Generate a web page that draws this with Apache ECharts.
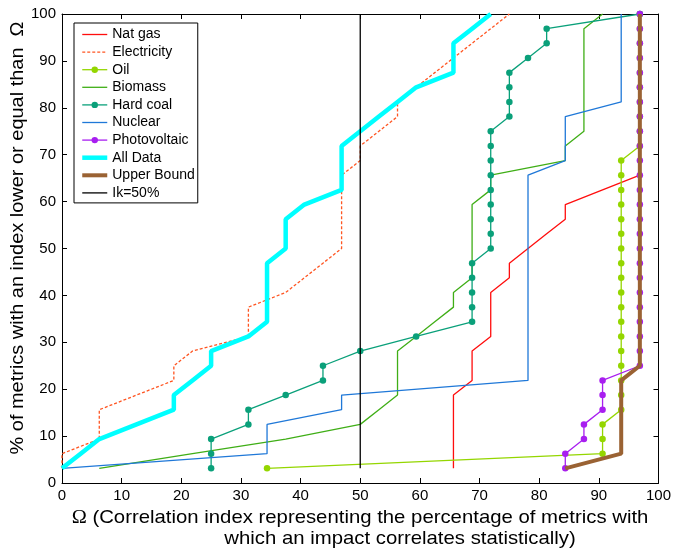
<!DOCTYPE html>
<html>
<head>
<meta charset="utf-8">
<script src="https://cdn.jsdelivr.net/npm/echarts@6/dist/echarts.min.js"></script>
<style>
  html, body { margin: 0; padding: 0; background: #fff; }
  #chart { width: 674px; height: 548px; }
</style>
</head>
<body>
<div id="chart"></div>
<script>
// Cumulative share of metrics (y, %) reached at each correlation index (x, %).
const levels = [3.125, 6.25, 9.375, 12.5, 15.625, 18.75, 21.875, 25, 28.125, 31.25,
  34.375, 37.5, 40.625, 43.75, 46.875, 50, 53.125, 56.25, 59.375, 62.5,
  65.625, 68.75, 71.875, 75, 78.125, 81.25, 84.375, 87.5, 90.625, 93.75,
  96.875, 100];

const natGas = [65.625, 65.625, 65.625, 65.625, 65.625, 65.625, 68.75, 68.75, 68.75,
  71.875, 71.875, 71.875, 71.875, 75, 75, 78.125, 81.25, 84.375, 84.375, 90.625,
  96.875, 96.875, 96.875, 96.875, 96.875, 96.875, 96.875, 96.875, 96.875, 96.875,
  96.875, 96.875];

const electricity = [0, 0, 6.25, 6.25, 6.25, 12.5, 18.75, 18.75, 21.875, 31.25,
  31.25, 31.25, 37.5, 40.625, 43.75, 46.875, 46.875, 46.875, 46.875, 46.875,
  46.875, 50, 50, 53.125, 56.25, 56.25, 59.375, 62.5, 65.625, 68.75, 71.875, 75];

const oil = [34.375, 90.625, 90.625, 90.625, 93.75, 93.75, 93.75, 93.75, 93.75,
  93.75, 93.75, 93.75, 93.75, 93.75, 93.75, 93.75, 93.75, 93.75, 93.75, 93.75,
  93.75, 93.75, 96.875, 96.875, 96.875, 96.875, 96.875, 96.875, 96.875, 96.875,
  96.875, 96.875];

const biomass = [6.25, 21.875, 37.5, 50, 53.125, 56.25, 56.25, 56.25, 56.25, 59.375,
  62.5, 65.625, 65.625, 68.75, 68.75, 68.75, 68.75, 68.75, 68.75, 71.875, 71.875,
  84.375, 84.375, 87.5, 87.5, 87.5, 87.5, 87.5, 87.5, 87.5, 87.5, 90.625];

const hardCoal = [25, 25, 25, 31.25, 31.25, 37.5, 43.75, 43.75, 50, 59.375,
  68.75, 68.75, 68.75, 68.75, 68.75, 71.875, 71.875, 71.875, 71.875, 71.875,
  71.875, 71.875, 71.875, 71.875, 75, 75, 75, 75, 78.125, 81.25, 81.25, 96.875];

const nuclear = [0, 34.375, 34.375, 34.375, 46.875, 46.875, 78.125, 78.125, 78.125,
  78.125, 78.125, 78.125, 78.125, 78.125, 78.125, 78.125, 78.125, 78.125, 78.125,
  78.125, 78.125, 84.375, 84.375, 84.375, 84.375, 93.75, 93.75, 93.75, 93.75,
  93.75, 93.75, 93.75];

const photovoltaic = [84.375, 84.375, 87.5, 87.5, 90.625, 90.625, 90.625, 96.875,
  96.875, 96.875, 96.875, 96.875, 96.875, 96.875, 96.875, 96.875, 96.875, 96.875,
  96.875, 96.875, 96.875, 96.875, 96.875, 96.875, 96.875, 96.875, 96.875, 96.875,
  96.875, 96.875, 96.875, 96.875];

const allData = [0, 3.125, 6.25, 12.5, 18.75, 18.75, 21.875, 25, 25, 31.25,
  34.375, 34.375, 34.375, 34.375, 34.375, 37.5, 37.5, 37.5, 40.625, 46.875,
  46.875, 46.875, 46.875, 50, 53.125, 56.25, 59.375, 65.625, 65.625, 65.625,
  68.75, 71.875];

const upperBound = [84.375, 93.75, 93.75, 93.75, 93.75, 93.75, 93.75, 96.875,
  96.875, 96.875, 96.875, 96.875, 96.875, 96.875, 96.875, 96.875, 96.875, 96.875,
  96.875, 96.875, 96.875, 96.875, 96.875, 96.875, 96.875, 96.875, 96.875, 96.875,
  96.875, 96.875, 96.875, 96.875];

// Reference line at Ik = 50 %
const ikX = [50, 50];
const ikY = [3.125, 100];

const axisTicks = [0, 10, 20, 30, 40, 50, 60, 70, 80, 90, 100];

const FONT = '"Liberation Sans", Arial, sans-serif';

function pairs(xs, ys) {
  return xs.map((x, i) => [x, ys[i]]);
}

function lineSeries(name, xs, ys, color, opts) {
  const o = opts || {};
  return {
    name: name,
    type: 'line',
    data: pairs(xs, ys),
    symbol: o.marker ? 'circle' : 'none',
    showSymbol: !!o.marker,
    symbolSize: 6.5,
    itemStyle: { color: color },
    lineStyle: { color: color, width: o.width || 1.3, type: o.dash || 'solid' },
    z: o.z || 2,
    clip: false,
    silent: true,
    animation: false
  };
}

const series = [
  lineSeries('Nat gas', natGas, levels, '#ff0d0d'),
  lineSeries('Electricity', electricity, levels, '#ff5522', { dash: [3, 2] }),
  lineSeries('Oil', oil, levels, '#94d600', { marker: true }),
  lineSeries('Biomass', biomass, levels, '#3fae16'),
  lineSeries('Hard coal', hardCoal, levels, '#0aa07a', { marker: true }),
  lineSeries('Nuclear', nuclear, levels, '#1f78d8'),
  lineSeries('Photovoltaic', photovoltaic, levels, '#a81ef0', { marker: true, z: 3 }),
  lineSeries('All Data', allData, levels, '#00ffff', { width: 4.5, z: 4 }),
  lineSeries('Upper Bound', upperBound, levels, '#9a6233', { width: 4, z: 5 }),
  lineSeries('Ik=50%', ikX, ikY, '#000000', { z: 6 })
];

// Legend rows copy each series' line (and dot, where the series has markers)
const markerNames = ['Oil', 'Hard coal', 'Photovoltaic'];
const legendData = series.map(s => {
  const item = {
    name: s.name,
    lineStyle: { width: s.lineStyle.width, type: s.lineStyle.type, color: s.lineStyle.color }
  };
  if (markerNames.indexOf(s.name) < 0) item.itemStyle = { opacity: 0 };
  return item;
});

const tickLabel = v => (axisTicks.indexOf(v) >= 0 ? String(v) : '');

const chart = echarts.init(document.getElementById('chart'), null, { renderer: 'canvas' });
chart.setOption({
  animation: false,
  backgroundColor: '#ffffff',
  grid: { left: 62, right: 15, top: 14, bottom: 65, containLabel: false },
  xAxis: [
    {
      type: 'value', min: 0, max: 100, interval: 10, position: 'bottom',
      axisLine: { show: true, onZero: false, lineStyle: { color: '#000', width: 1 } },
      axisTick: { show: true, inside: true, length: 5, lineStyle: { color: '#000' } },
      axisLabel: { color: '#000', fontSize: 15, fontFamily: FONT, margin: 5, formatter: tickLabel },
      splitLine: { show: false }
    },
    {
      type: 'value', min: 0, max: 100, interval: 10, position: 'top',
      axisLine: { show: true, onZero: false, lineStyle: { color: '#000', width: 1 } },
      axisTick: { show: true, inside: true, length: 5, lineStyle: { color: '#000' } },
      axisLabel: { show: false },
      splitLine: { show: false }
    }
  ],
  yAxis: [
    {
      type: 'value', min: 0, max: 100, interval: 10, position: 'left',
      axisLine: { show: true, onZero: false, lineStyle: { color: '#000', width: 1 } },
      axisTick: { show: true, inside: true, length: 5, lineStyle: { color: '#000' } },
      axisLabel: { color: '#000', fontSize: 15, fontFamily: FONT, margin: 6, formatter: tickLabel },
      splitLine: { show: false }
    },
    {
      type: 'value', min: 0, max: 100, interval: 10, position: 'right',
      axisLine: { show: true, onZero: false, lineStyle: { color: '#000', width: 1 } },
      axisTick: { show: true, inside: true, length: 5, lineStyle: { color: '#000' } },
      axisLabel: { show: false },
      splitLine: { show: false }
    }
  ],
  legend: {
    orient: 'vertical',
    left: 74,
    top: 23,
    itemWidth: 25,
    itemHeight: 8,
    itemGap: 3.6,
    padding: [4.5, 3, 3, 6],
    borderColor: '#000',
    borderWidth: 1,
    borderRadius: 0,
    backgroundColor: '#ffffff',
    selectedMode: false,
    textStyle: { color: '#000', fontSize: 14, fontFamily: FONT, lineHeight: 14 },
    data: legendData
  },
  graphic: [
    {
      type: 'text', x: 360, y: 518, scaleX: 1.07, silent: true,
      style: {
        text: '{o|Ω} (Correlation index representing the percentage of metrics with',
        fill: '#000', font: '19px ' + FONT, align: 'center', verticalAlign: 'middle',
        rich: { o: { fontFamily: '"Liberation Serif", "Times New Roman", serif', fontSize: 19, fill: '#000' } }
      }
    },
    {
      type: 'text', x: 400, y: 539, scaleX: 1.07, silent: true,
      style: {
        text: 'which an impact correlates statistically)',
        fill: '#000', font: '19px ' + FONT, align: 'center', verticalAlign: 'middle'
      }
    },
    {
      type: 'text', x: 18, y: 238, rotation: Math.PI / 2, scaleX: 1.05, silent: true,
      style: {
        text: '% of metrics with an index lower or equal than  Ω',
        fill: '#000', font: '19px ' + FONT, align: 'center', verticalAlign: 'middle'
      }
    }
  ],
  series: series
});
</script>
</body>
</html>
